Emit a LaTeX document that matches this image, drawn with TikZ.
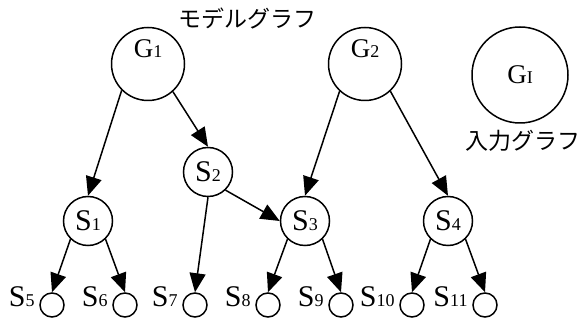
\documentclass[tikz,border=0pt]{standalone}
\usepackage{fontspec}
\setmainfont{Liberation Serif}
\newfontfamily\jpfont{Noto Sans CJK JP}
\usetikzlibrary{arrows.meta, positioning}
\newcommand{\lab}[2]{#1{\fontsize{18}{18}\selectfont #2}}
\tikzstyle{every node}=[font=\fontsize{30}{30}\selectfont]
\tikzstyle{state}=[circle,draw,line width=1.5pt,inner sep=0pt]
\tikzstyle{big state}=[state,minimum size=73pt]
\tikzstyle{input state}=[state,minimum size=96pt]
\tikzstyle{sub state}=[state,minimum size=49pt]
\tikzstyle{leaf}=[state,minimum size=24pt]
\tikzstyle{leaf label}=[inner sep=0pt,anchor=base east]
\tikzstyle{graph label}=[font=\fontsize{27}{27}\selectfont]
\tikzstyle{jp}=[font=\jpfont\fontsize{23}{23}\selectfont]

\begin{document}
\begin{tikzpicture}[x=1pt, y=-1pt, line width=1.5pt,
  -{Triangle[length=19pt,width=16pt]}]
\useasboundingbox (0,0) rectangle (584,320);

			% Draw the graph roots
			\node[big state] (G1) at (148,64) {};
			\node[big state] (G2) at (365,64) {};
			\node[graph label] (G1-label) at ([yshift=15pt]G1.center) {\lab{G}{1}};
			\node[graph label] (G2-label) at ([yshift=15pt]G2.center) {\lab{G}{2}};
			\node[input state,graph label] (GI) at (520,75) {\lab{G}{I}};

			% Draw the inner nodes
			\node[sub state] (S1) at (88,221) {\lab{S}{1}};
			\node[sub state] (S2) at (208,172) {\lab{S}{2}};
			\node[sub state] (S3) at (305,221) {\lab{S}{3}};
			\node[sub state] (S4) at (448,221) {\lab{S}{4}};

			% Draw the leaves with their labels
			\foreach \name / \x in {5/52, 6/125, 7/195, 8/268, 9/341, 10/412, 11/485}
			{
			\node[leaf] (S\name) at (\x,305) {};
			\node[leaf label] (L\name) at ([xshift=-4pt,yshift=-2pt]S\name.west) {\lab{S}{\name}};
			}

			% Connect the nodes
			\foreach \source / \dest in {G1.225/S1.north, G1.312/S2.north,
			  G2.227/S3.north, G2.313/S4.north, S2.314/S3.west, S2.south/S7.north,
			  S1.226/S5.north, S1.314/S6.north, S3.226/S8.north, S3.314/S9.north,
			  S4.226/S10.north, S4.314/S11.north}
			\draw (\source) -- (\dest);

			% Annotate the graphs
			\node[jp] (model) at (247,18) {モデルグラフ};
			\node[jp] (input) at (523,141) {入力グラフ};
		\end{tikzpicture}
\end{document}
